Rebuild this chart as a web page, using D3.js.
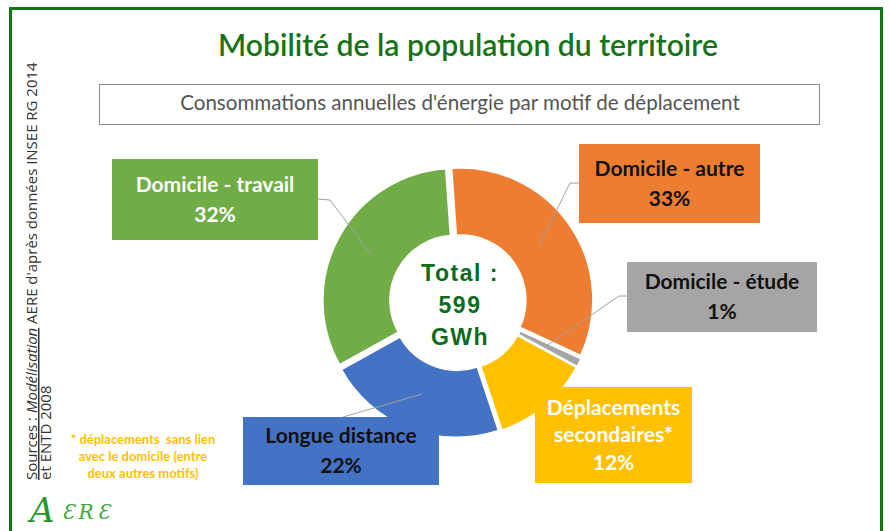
<!DOCTYPE html>
<html>
<head>
<meta charset="utf-8">
<script src="https://cdn.jsdelivr.net/npm/d3@7"></script>
<style>
	body { margin: 0; background: #fff; }
	svg { display: block; }
</style>
</head>
<body>
<svg id="chart" width="889" height="531"></svg>
<script>
// data
var categories = ["Domicile - autre", "Domicile - étude", "Déplacements secondaires*", "Longue distance", "Domicile - travail"];
var shares = [33, 1, 12, 22, 32];
var labelLines = [["Domicile - autre"], ["Domicile - étude"], ["Déplacements", "secondaires*"], ["Longue distance"], ["Domicile - travail"]];
var totalLines = ["Total :", "599", "GWh"];
var footnoteLines = ["* déplacements  sans lien", "avec le domicile (entre", "deux autres motifs)"];
var sourceLines = ["AERE d'après données INSEE RG 2014", "et ENTD 2008"];

var sliceColors = ["#ED7D31", "#A5A5A5", "#FFC000", "#4472C4", "#70AD47"];
var textColors = ["#111", "#111", "#fff", "#111", "#fff"];

// label boxes + leader line anchors (layout only)
var boxes = [
	{ x: 579, y: 144, w: 181, h: 79, lead: [[579, 183], [570, 183]] },
	{ x: 627, y: 262, w: 190, h: 70, lead: [[627, 296], [619, 296]] },
	{ x: 535, y: 387, w: 157, h: 96, lead: null },
	{ x: 243, y: 417, w: 196, h: 68, lead: [[343, 417]] },
	{ x: 112, y: 159, w: 206, h: 81, lead: [[318, 199], [330, 200]] }
];

var svg = d3.select("#chart");
var cx = 458, cy = 302, rOut = 132, rIn = 65;
var offset = -4 * Math.PI / 180;
var explode = 3.5;

function fitWidth(sel, w) {
	var size = parseFloat(sel.style("font-size"));
	var len = sel.node().getComputedTextLength();
	sel.style("font-size", (size * w / len) + "px");
}

// green frame
svg.append("rect")
	.attr("x", 10.5).attr("y", 8.5)
	.attr("width", 871).attr("height", 560)
	.attr("fill", "#fff")
	.attr("stroke", "#117711").attr("stroke-width", 3);

// title
var title = svg.append("text")
	.attr("x", 468).attr("y", 56)
	.attr("text-anchor", "middle")
	.style("font-family", "Lato").style("font-weight", 600).style("font-size", "27px")
	.attr("fill", "#187318")
	.text("Mobilité de la population du territoire");
fitWidth(title, 500);

// subtitle box
svg.append("rect")
	.attr("x", 99.5).attr("y", 84.5).attr("width", 720).attr("height", 40)
	.attr("fill", "#fff").attr("stroke", "#8a8a8a").attr("stroke-width", 1);
var sub = svg.append("text")
	.attr("x", 460).attr("y", 110)
	.attr("text-anchor", "middle")
	.style("font-family", "Lato").style("font-size", "17px")
	.attr("fill", "#555")
	.text("Consommations annuelles d'énergie par motif de déplacement");
fitWidth(sub, 560);

// donut (slices pushed out a little, as in the original)
var pie = d3.pie().sort(null).value(function(d) { return d; })
	.startAngle(offset).endAngle(offset + 2 * Math.PI);
var arcs = pie(shares);
var arc = d3.arc().innerRadius(rIn).outerRadius(rOut);
var midArc = d3.arc().innerRadius((rIn + rOut) / 2).outerRadius((rIn + rOut) / 2);

function shift(d) {
	var a = (d.startAngle + d.endAngle) / 2;
	return [explode * Math.sin(a), -explode * Math.cos(a)];
}

var donut = svg.append("g").attr("transform", "translate(" + cx + "," + cy + ")");
donut.selectAll("path.slice").data(arcs).enter().append("path")
	.attr("class", "slice")
	.attr("d", arc)
	.attr("transform", function(d) { var s = shift(d); return "translate(" + s[0] + "," + s[1] + ")"; })
	.attr("fill", function(d, i) { return sliceColors[i]; })
	.attr("stroke", "#fff").attr("stroke-width", 1.5);

// leader lines
var line = d3.line();
arcs.forEach(function(d, i) {
	if (!boxes[i].lead) return;
	var c = midArc.centroid(d);
	var pts = boxes[i].lead.concat([[cx + c[0], cy + c[1]]]);
	svg.append("path")
		.attr("d", line(pts))
		.attr("fill", "none")
		.attr("stroke", "#a0a0a0").attr("stroke-width", 1);
});

// centre text
var total = svg.append("g");
totalLines.forEach(function(t, i) {
	total.append("text")
		.attr("x", cx + 2).attr("y", 281 + i * 32)
		.attr("text-anchor", "middle")
		.style("font-family", "Liberation Sans, Arial").style("font-weight", "bold")
		.style("font-size", "23px").style("letter-spacing", "1.5px")
		.attr("fill", "#0b6b1e")
		.text(t);
});

// label boxes
boxes.forEach(function(b, i) {
	var g = svg.append("g");
	g.append("rect")
		.attr("x", b.x).attr("y", b.y).attr("width", b.w).attr("height", b.h)
		.attr("fill", sliceColors[i]);
	var lines = labelLines[i].concat([shares[i] + "%"]);
	var step = lines.length > 2 ? 27.5 : 30;
	var top = b.y + b.h / 2 - step * (lines.length - 1) / 2;
	lines.forEach(function(t, j) {
		g.append("text")
			.attr("x", b.x + b.w / 2).attr("y", top + j * step)
			.attr("dy", "0.35em")
			.attr("text-anchor", "middle")
			.style("font-family", "Lato").style("font-weight", "bold").style("font-size", "21px")
			.attr("fill", textColors[i])
			.text(t);
	});
});

// sources, rotated
var src = svg.append("g").attr("transform", "translate(37,480) rotate(-90)");
var s1 = src.append("text")
	.style("font-family", "Open Sans").style("font-size", "13px").attr("fill", "#333");
s1.append("tspan").style("text-decoration", "underline").text("Sources : ");
s1.append("tspan").style("text-decoration", "underline").style("font-style", "italic").text("Modélisation");
s1.append("tspan").text(" " + sourceLines[0]);
fitWidth(s1, 418);
src.append("text").attr("y", 14)
	.style("font-family", "Open Sans").style("font-size", s1.style("font-size")).attr("fill", "#333")
	.text(sourceLines[1]);

// footnote
footnoteLines.forEach(function(t, i) {
	svg.append("text")
		.attr("x", 143).attr("y", 444 + i * 17)
		.attr("text-anchor", "middle")
		.style("white-space", "pre")
		.style("font-family", "Lato").style("font-weight", "bold").style("font-size", "13px")
		.attr("fill", "#FFC000")
		.text(t);
});

// logo
svg.append("text")
	.attr("x", 30).attr("y", 522)
	.style("font-family", "DejaVu Serif").style("font-style", "italic").style("font-size", "34px")
	.attr("fill", "#1f9a2a")
	.text("A");
svg.append("text")
	.attr("x", 62).attr("y", 519)
	.style("font-family", "DejaVu Serif").style("font-style", "italic").style("font-size", "20px")
	.style("letter-spacing", "4px")
	.attr("fill", "#3aa83a")
	.text("ƐRƐ");
</script>
</body>
</html>
